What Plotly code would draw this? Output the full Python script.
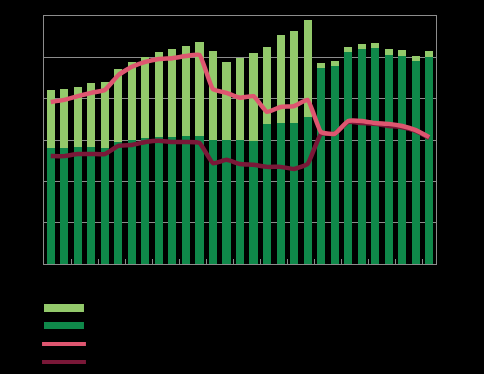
import plotly.graph_objects as go

categories = [str(i) for i in range(1, 30)]

total = [42.1, 42.3, 42.8, 43.8, 44.0, 47.2, 48.9, 50.1, 51.3, 52.0,
         52.7, 53.7, 51.5, 48.9, 49.8, 51.1, 52.5, 55.4, 56.4, 59.0,
         48.6, 49.1, 52.5, 53.2, 53.5, 52.0, 51.8, 50.3, 51.5]
dark = [28.1, 28.1, 28.3, 28.3, 28.1, 29.5, 30.0, 30.5, 30.7, 30.7,
        31.0, 31.0, 30.0, 30.0, 30.0, 29.8, 33.9, 34.1, 34.1, 35.6,
        47.4, 47.9, 51.3, 52.0, 52.3, 50.6, 50.3, 49.1, 50.1]
light = [round(t - d, 2) for t, d in zip(total, dark)]

pink_line = [39.2, 39.7, 40.6, 41.4, 42.1, 45.7, 47.7, 48.9, 49.6, 49.8,
             50.3, 50.6, 42.3, 41.4, 40.2, 40.6, 36.8, 38.0, 38.2, 39.7,
             31.9, 31.5, 34.6, 34.6, 34.1, 33.9, 33.4, 32.4, 30.7]
maroon_line = [26.1, 26.1, 26.6, 26.6, 26.6, 28.6, 28.8, 29.5, 29.8, 29.5,
               29.5, 29.3, 24.4, 25.2, 24.2, 24.0, 23.5, 23.5, 23.0, 24.2,
               31.5, 31.5, 34.4, 34.1, 33.9, 33.4, 33.1, 32.2, 30.5]

C_LIGHT = "#93c96b"
C_DARK = "#0f884a"
C_PINK = "#de5670"
C_MAROON = "#7a1838"
GRID = "#8c8c8c"

fig = go.Figure()
fig.add_bar(x=categories, y=dark, marker_color=C_DARK, width=0.6,
            marker_line_width=0, name="dark")
fig.add_bar(x=categories, y=light, marker_color=C_LIGHT, width=0.6,
            marker_line_width=0, name="light")
fig.add_scatter(x=categories, y=maroon_line, mode="lines",
                line=dict(color=C_MAROON, width=4.5, shape="spline", smoothing=0.4),
                name="maroon")
fig.add_scatter(x=categories, y=pink_line, mode="lines",
                line=dict(color=C_PINK, width=4.5, shape="spline", smoothing=0.4),
                name="pink")

# legend swatches (drawn as shapes below the plot)
shapes = [
    dict(type="rect", xref="paper", yref="paper", x0=0, x1=0.102,
         y0=-0.161, y1=-0.194, fillcolor=C_LIGHT, line_width=0),
    dict(type="rect", xref="paper", yref="paper", x0=0, x1=0.102,
         y0=-0.234, y1=-0.262, fillcolor=C_DARK, line_width=0),
    dict(type="line", xref="paper", yref="paper", x0=-0.005, x1=0.107,
         y0=-0.323, y1=-0.323, line=dict(color=C_PINK, width=4)),
    dict(type="line", xref="paper", yref="paper", x0=-0.005, x1=0.107,
         y0=-0.395, y1=-0.395, line=dict(color=C_MAROON, width=4)),
]

fig.update_layout(
    barmode="stack",
    width=484, height=374,
    margin=dict(l=44, r=48, t=16, b=110),
    paper_bgcolor="black", plot_bgcolor="black",
    showlegend=False,
    shapes=shapes,
    bargap=0.4,
    hovermode=False,
)
fig.update_xaxes(
    type="category", range=[-0.5, 28.5],
    showticklabels=False, showgrid=False,
    ticks="inside", ticklen=5, tickcolor=GRID, tickson="boundaries",
    showline=True, linecolor=GRID, linewidth=1, mirror=True,
)
fig.update_yaxes(
    range=[0, 60], dtick=10, showticklabels=False,
    showgrid=True, gridcolor=GRID, gridwidth=1, zeroline=False,
    showline=True, linecolor=GRID, linewidth=1, mirror=True,
)

fig.write_html("out.html", config={"displayModeBar": False, "staticPlot": True})

# remove the default page margin so the figure sits at the window origin
with open("out.html", "r", encoding="utf-8") as f:
    html = f.read()
html = html.replace(
    "<head>",
    "<head><style>html,body{margin:0;padding:0;background:#000;overflow:hidden;}</style>",
    1,
)
with open("out.html", "w", encoding="utf-8") as f:
    f.write(html)
